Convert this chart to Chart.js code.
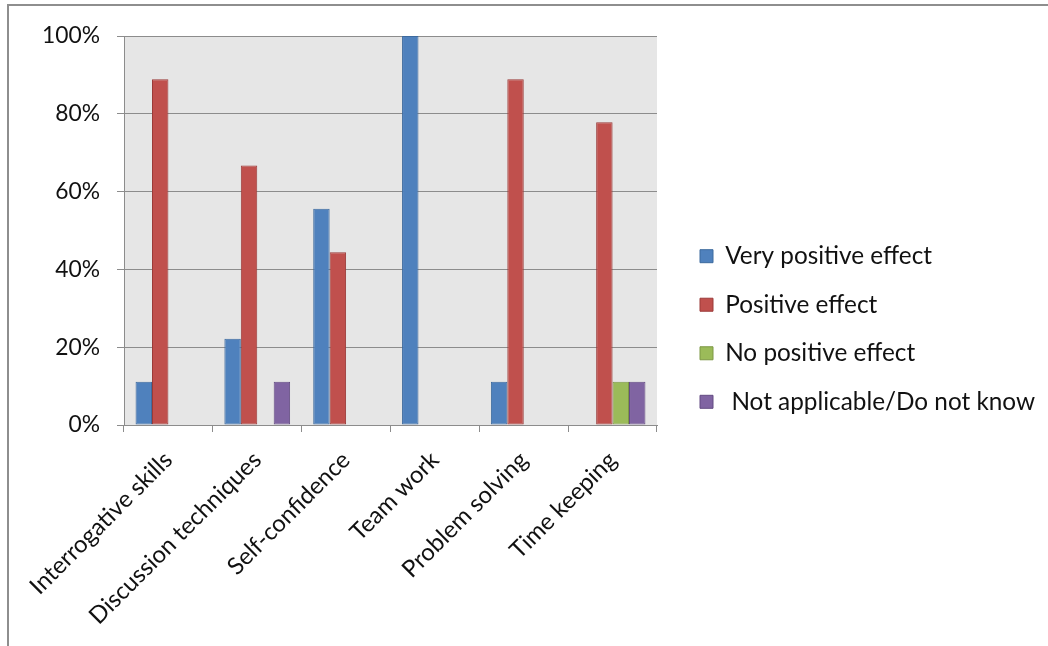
<!DOCTYPE html>
<html>
<head>
<meta charset="utf-8">
<script src="https://cdn.jsdelivr.net/npm/chart.js@4.4.1/dist/chart.umd.min.js"></script>
<style>
  html, body { margin: 0; padding: 0; background: #fff; }
  #frame {
    position: absolute; left: 7px; top: 4px;
    width: 1041px; height: 642px; box-sizing: border-box;
    border-left: 2px solid #8e8e8e; border-top: 2px solid #8e8e8e;
  }
  #wrap { position: relative; width: 1039px; height: 640px; }
</style>
</head>
<body>
<div id="frame"><div id="wrap"><canvas id="c"></canvas></div></div>
<script>
// Survey results: share of respondents per skill area (%)
const categories = ['Interrogative skills', 'Discussion techniques', 'Self-confidence', 'Team work', 'Problem solving', 'Time keeping'];
const veryPositive  = [11.1, 22.2, 55.6, 100, 11.1, 0];
const positive      = [88.9, 66.7, 44.4, 0, 88.9, 77.8];
const noPositive    = [0, 0, 0, 0, 0, 11.1];
const notApplicable = [0, 11.1, 0, 0, 0, 11.1];
const seriesNames = ['Very positive effect', 'Positive effect', 'No positive effect', ' Not applicable/Do not know'];
const yMin = 0, yMax = 100, yStep = 20;

const FONT = 'Lato, "Liberation Sans", sans-serif';
const TEXT = '#111';
const LINE = '#8c8c8c';

// canvas geometry
const W = 1039, PLOT_RIGHT = 648, LEG_PAD = 24.2, GAP = 43 - LEG_PAD, BOX = 13;

// pick font sizes from the width a sample string should occupy
const mctx = document.createElement('canvas').getContext('2d');
function sizeFor(text, width) {
  mctx.font = '100px ' + FONT;
  return 100 * width / mctx.measureText(text).width;
}
const LEGEND_SIZE = sizeFor('Very positive effect', 207);
const XTICK_SIZE = sizeFor('Interrogative skills', 190);
const YTICK_SIZE = sizeFor('100%', 58);

// size the legend so the plot ends where it should
mctx.font = LEGEND_SIZE + 'px ' + FONT;
const tw = Math.max(...seriesNames.map(s => mctx.measureText(s).width));
const legendW = LEG_PAD + BOX + LEGEND_SIZE / 2 + tw + 10;
const padRight = Math.max(0, W - PLOT_RIGHT - GAP - legendW);

const plotBg = {
  id: 'plotBg',
  beforeDraw(chart) {
    const { ctx, chartArea: a } = chart;
    ctx.save();
    ctx.fillStyle = '#e6e6e6';
    ctx.fillRect(a.left, a.top, a.right - a.left, a.bottom - a.top);
    ctx.restore();
  }
};

const mk = (label, data, fill, border) => ({
  label, data,
  backgroundColor: fill, borderColor: border, borderWidth: 1,
  borderSkipped: false,
  categoryPercentage: 0.74, barPercentage: 1.0
});

new Chart(document.getElementById('c'), {
  type: 'bar',
  data: {
    labels: categories,
    datasets: [
      mk(seriesNames[0], veryPositive, '#4F81BD', '#3D6A9E'),
      mk(seriesNames[1], positive, '#C0504D', '#9B3B39'),
      mk(seriesNames[2], noPositive, '#9BBB59', '#7C9845'),
      mk(seriesNames[3], notApplicable, '#8064A2', '#634B82')
    ]
  },
  plugins: [plotBg],
  options: {
    responsive: true,
    maintainAspectRatio: false,
    animation: false,
    layout: { padding: { left: 0, top: 6, bottom: 0, right: padRight } },
    plugins: {
      legend: {
        position: 'right',
        align: 'center',
        maxWidth: Math.ceil(legendW) + 2,
        labels: {
          boxWidth: BOX, boxHeight: BOX, padding: LEG_PAD,
          color: TEXT, font: { family: FONT, size: LEGEND_SIZE }
        }
      },
      tooltip: { enabled: false }
    },
    scales: {
      x: {
        grid: { offset: true, drawOnChartArea: false, tickLength: 7, color: LINE },
        border: { color: LINE },
        ticks: { maxRotation: 45, minRotation: 45, padding: 14, color: TEXT, font: { family: FONT, size: XTICK_SIZE } },
        afterFit(s) { s.height = 221; }
      },
      y: {
        min: yMin, max: yMax,
        ticks: {
          stepSize: yStep, padding: 17, color: TEXT,
          font: { family: FONT, size: YTICK_SIZE, lineHeight: '26px' },
          callback: v => v + '%'
        },
        grid: { color: LINE, tickLength: 7 },
        border: { color: LINE },
        afterFit(s) { s.width = 115; }
      },
      gap: {
        type: 'linear', position: 'right', display: true,
        grid: { display: false }, ticks: { display: false }, border: { display: false },
        afterFit(s) { s.width = GAP; }
      }
    }
  }
});
</script>
</body>
</html>
